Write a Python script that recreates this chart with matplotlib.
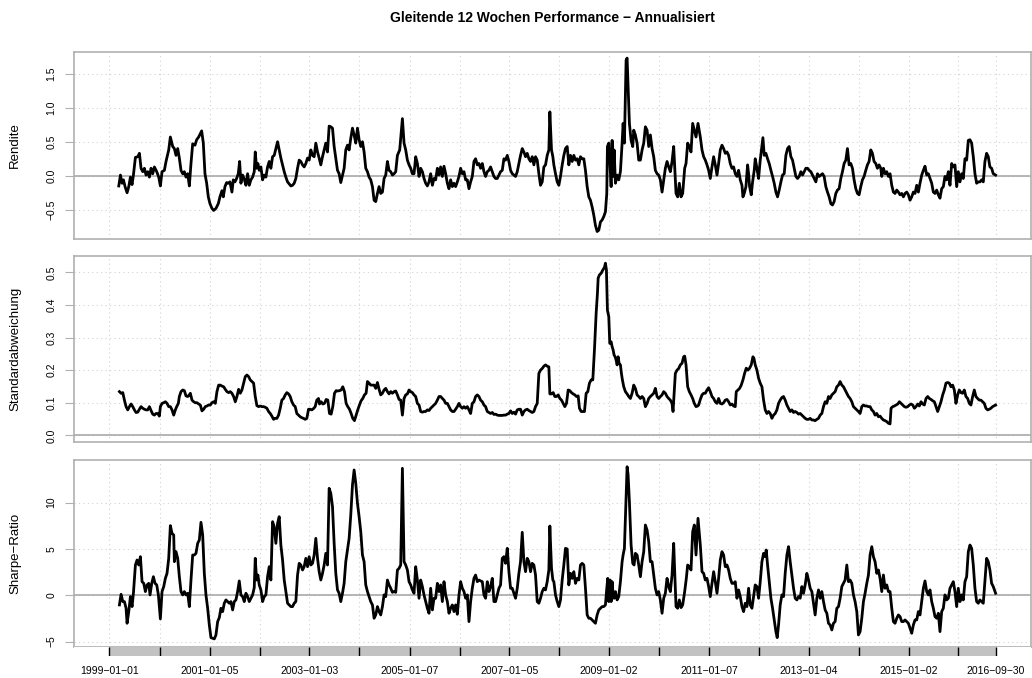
import numpy as np
import pandas as pd
import matplotlib
matplotlib.use("Agg")
import matplotlib.pyplot as plt

plt.rcParams['font.family'] = ['Liberation Sans', 'DejaVu Sans']

# rolling 12-week figures, (decimal year, value)
rendite = [
    (1999.187, -0.15), (1999.220, 0.01), (1999.253, -0.11), (1999.280, -0.06), (1999.313, -0.16),
    (1999.353, -0.25), (1999.387, -0.16), (1999.420, -0.02), (1999.453, -0.13), (1999.480, 0.01),
    (1999.520, 0.27), (1999.567, 0.28), (1999.600, 0.33), (1999.633, 0.11), (1999.667, 0.06),
    (1999.700, 0.11), (1999.733, 0.01), (1999.767, 0.06), (1999.800, -0.02), (1999.833, 0.11),
    (1999.867, 0.03), (1999.900, 0.13), (1999.947, 0.06), (1999.987, -0.02), (2000.020, -0.15),
    (2000.053, 0.06), (2000.100, 0.08), (2000.133, 0.21), (2000.187, 0.38), (2000.220, 0.57),
    (2000.267, 0.43), (2000.300, 0.40), (2000.333, 0.30), (2000.367, 0.40), (2000.400, 0.26),
    (2000.433, 0.08), (2000.467, 0.03), (2000.500, 0.06), (2000.533, -0.02), (2000.567, 0.03),
    (2000.600, -0.15), (2000.633, 0.18), (2000.667, 0.47), (2000.713, 0.45), (2000.747, 0.53),
    (2000.787, 0.57), (2000.820, 0.62), (2000.847, 0.66), (2000.880, 0.48), (2000.913, 0.03),
    (2000.947, -0.11), (2000.980, -0.31), (2001.013, -0.41), (2001.053, -0.48), (2001.087, -0.51),
    (2001.133, -0.48), (2001.180, -0.41), (2001.213, -0.31), (2001.253, -0.22), (2001.280, -0.31),
    (2001.313, -0.16), (2001.347, -0.10), (2001.380, -0.11), (2001.413, -0.09), (2001.453, -0.24),
    (2001.480, -0.06), (2001.513, -0.09), (2001.547, -0.04), (2001.580, 0.03), (2001.607, 0.21),
    (2001.633, -0.11), (2001.667, 0.01), (2001.700, -0.05), (2001.733, -0.14), (2001.767, 0.03),
    (2001.800, -0.14), (2001.833, -0.06), (2001.867, -0.02), (2001.900, 0.06), (2001.920, 0.35),
    (2001.947, 0.11), (2001.973, 0.18), (2002.000, 0.08), (2002.033, 0.13), (2002.067, -0.06),
    (2002.100, 0.01), (2002.133, -0.02), (2002.167, 0.13), (2002.200, 0.21), (2002.233, 0.11),
    (2002.267, 0.28), (2002.300, 0.30), (2002.333, 0.40), (2002.367, 0.50), (2002.400, 0.38),
    (2002.433, 0.26), (2002.467, 0.16), (2002.500, 0.06), (2002.533, -0.02), (2002.567, -0.09),
    (2002.600, -0.12), (2002.633, -0.15), (2002.667, -0.14), (2002.700, -0.11), (2002.733, -0.04),
    (2002.767, 0.11), (2002.800, 0.23), (2002.833, 0.21), (2002.867, 0.16), (2002.900, 0.13),
    (2002.933, 0.18), (2002.967, 0.26), (2003.000, 0.23), (2003.033, 0.38), (2003.067, 0.30),
    (2003.100, 0.28), (2003.133, 0.48), (2003.167, 0.35), (2003.200, 0.26), (2003.233, 0.16),
    (2003.267, 0.28), (2003.300, 0.38), (2003.333, 0.48), (2003.367, 0.35), (2003.400, 0.73),
    (2003.433, 0.72), (2003.467, 0.70), (2003.500, 0.43), (2003.533, 0.26), (2003.567, 0.08),
    (2003.600, 0.03), (2003.633, -0.10), (2003.667, 0.01), (2003.700, 0.11), (2003.733, 0.38),
    (2003.767, 0.45), (2003.800, 0.38), (2003.833, 0.55), (2003.867, 0.70), (2003.900, 0.60),
    (2003.933, 0.48), (2003.967, 0.70), (2004.000, 0.53), (2004.033, 0.43), (2004.067, 0.50),
    (2004.100, 0.35), (2004.133, 0.11), (2004.167, 0.06), (2004.200, -0.02), (2004.233, -0.06),
    (2004.267, -0.16), (2004.300, -0.36), (2004.333, -0.38), (2004.367, -0.26), (2004.400, -0.16),
    (2004.433, -0.26), (2004.467, -0.24), (2004.500, -0.04), (2004.533, 0.01), (2004.567, 0.21),
    (2004.600, 0.08), (2004.633, 0.06), (2004.667, 0.01), (2004.700, 0.03), (2004.733, 0.06),
    (2004.767, 0.30), (2004.813, 0.38), (2004.867, 0.84), (2004.900, 0.48), (2004.933, 0.38),
    (2004.967, 0.23), (2005.000, 0.16), (2005.033, 0.11), (2005.067, 0.03), (2005.100, 0.03),
    (2005.133, 0.28), (2005.167, 0.18), (2005.200, -0.01), (2005.233, 0.11), (2005.267, 0.06),
    (2005.300, -0.04), (2005.333, -0.11), (2005.367, -0.15), (2005.400, -0.09), (2005.433, 0.03),
    (2005.467, -0.14), (2005.500, -0.04), (2005.533, -0.06), (2005.567, 0.11), (2005.600, 0.01),
    (2005.633, 0.13), (2005.667, -0.01), (2005.700, 0.14), (2005.733, 0.03), (2005.767, -0.11),
    (2005.800, -0.19), (2005.833, -0.06), (2005.867, -0.16), (2005.900, -0.11), (2005.933, -0.16),
    (2005.967, -0.09), (2006.000, -0.01), (2006.033, 0.11), (2006.067, 0.03), (2006.100, 0.06),
    (2006.133, -0.06), (2006.167, -0.06), (2006.200, -0.19), (2006.233, -0.09), (2006.267, -0.01),
    (2006.300, 0.21), (2006.333, 0.25), (2006.367, 0.16), (2006.400, 0.18), (2006.433, 0.11),
    (2006.467, 0.18), (2006.500, 0.06), (2006.533, -0.01), (2006.567, 0.06), (2006.600, 0.08),
    (2006.633, 0.13), (2006.667, 0.06), (2006.700, -0.01), (2006.733, -0.04), (2006.767, -0.04),
    (2006.800, 0.01), (2006.833, 0.06), (2006.867, 0.08), (2006.900, 0.25), (2006.933, 0.23),
    (2006.967, 0.30), (2007.000, 0.21), (2007.033, 0.08), (2007.067, 0.03), (2007.100, 0.01),
    (2007.133, -0.01), (2007.167, 0.06), (2007.200, 0.18), (2007.233, 0.30), (2007.267, 0.40),
    (2007.300, 0.35), (2007.333, 0.28), (2007.367, 0.33), (2007.400, 0.25), (2007.433, 0.21),
    (2007.467, 0.28), (2007.500, 0.16), (2007.533, 0.28), (2007.567, 0.23), (2007.600, 0.03),
    (2007.633, -0.14), (2007.667, -0.09), (2007.700, 0.13), (2007.733, 0.16), (2007.767, 0.30),
    (2007.800, 0.38), (2007.820, 0.94), (2007.853, 0.38), (2007.880, 0.28), (2007.900, 0.16),
    (2007.933, 0.03), (2007.967, -0.09), (2008.000, -0.14), (2008.033, -0.01), (2008.067, 0.16),
    (2008.100, 0.30), (2008.133, 0.40), (2008.167, 0.43), (2008.200, 0.16), (2008.233, 0.30),
    (2008.267, 0.21), (2008.300, 0.30), (2008.333, 0.23), (2008.367, 0.25), (2008.400, 0.16),
    (2008.433, 0.28), (2008.467, 0.25), (2008.500, 0.25), (2008.533, 0.08), (2008.567, -0.16),
    (2008.600, -0.31), (2008.633, -0.36), (2008.667, -0.46), (2008.700, -0.58), (2008.733, -0.73),
    (2008.767, -0.82), (2008.800, -0.80), (2008.833, -0.68), (2008.867, -0.65), (2008.900, -0.60),
    (2008.933, -0.53), (2008.960, -0.26), (2008.973, 0.43), (2009.000, 0.48), (2009.020, 0.23),
    (2009.047, -0.16), (2009.067, 0.52), (2009.087, -0.01), (2009.107, 0.38), (2009.133, -0.11),
    (2009.167, 0.01), (2009.200, -0.06), (2009.233, 0.06), (2009.267, 0.48), (2009.287, 0.77),
    (2009.313, 0.48), (2009.347, 1.70), (2009.367, 1.73), (2009.387, 1.31), (2009.413, 0.77),
    (2009.447, 0.52), (2009.480, 0.43), (2009.500, 0.67), (2009.533, 0.60), (2009.567, 0.48),
    (2009.600, 0.23), (2009.633, 0.23), (2009.667, 0.38), (2009.700, 0.48), (2009.733, 0.72),
    (2009.767, 0.67), (2009.800, 0.43), (2009.833, 0.60), (2009.867, 0.40), (2009.900, 0.28),
    (2009.933, 0.08), (2009.967, 0.03), (2010.000, 0.01), (2010.033, -0.06), (2010.067, -0.24),
    (2010.100, -0.06), (2010.133, 0.11), (2010.167, 0.21), (2010.200, 0.13), (2010.233, 0.06),
    (2010.267, 0.21), (2010.300, 0.43), (2010.320, 0.13), (2010.347, -0.26), (2010.380, -0.31),
    (2010.413, -0.11), (2010.447, -0.31), (2010.480, -0.26), (2010.520, 0.11), (2010.547, 0.18),
    (2010.580, 0.48), (2010.613, 0.43), (2010.647, 0.35), (2010.680, 0.77), (2010.713, 0.67),
    (2010.747, 0.57), (2010.787, 0.77), (2010.833, 0.57), (2010.867, 0.38), (2010.900, 0.28),
    (2010.933, 0.23), (2010.967, 0.16), (2011.000, 0.08), (2011.033, -0.04), (2011.067, 0.13),
    (2011.100, 0.28), (2011.133, 0.16), (2011.167, 0.01), (2011.200, 0.18), (2011.233, 0.38),
    (2011.267, 0.45), (2011.300, 0.40), (2011.333, 0.33), (2011.367, 0.35), (2011.400, 0.30),
    (2011.433, 0.18), (2011.467, 0.11), (2011.500, 0.13), (2011.533, 0.03), (2011.567, -0.01),
    (2011.600, 0.08), (2011.633, -0.06), (2011.667, -0.14), (2011.687, -0.31), (2011.713, -0.26),
    (2011.747, -0.16), (2011.780, 0.16), (2011.800, 0.03), (2011.820, -0.16), (2011.853, -0.28),
    (2011.880, -0.09), (2011.913, 0.08), (2011.933, 0.25), (2011.967, 0.11), (2012.000, -0.04),
    (2012.033, 0.23), (2012.067, 0.43), (2012.087, 0.56), (2012.113, 0.30), (2012.147, 0.33),
    (2012.180, 0.25), (2012.213, 0.18), (2012.247, 0.08), (2012.280, -0.01), (2012.313, -0.11),
    (2012.347, -0.24), (2012.380, -0.31), (2012.413, -0.21), (2012.447, -0.09), (2012.480, 0.01),
    (2012.513, 0.03), (2012.547, 0.30), (2012.580, 0.40), (2012.613, 0.43), (2012.647, 0.28),
    (2012.680, 0.23), (2012.713, 0.11), (2012.747, -0.01), (2012.780, -0.04), (2012.813, -0.01),
    (2012.847, 0.06), (2012.880, 0.01), (2012.913, 0.06), (2012.947, 0.11), (2012.980, 0.11),
    (2013.013, 0.08), (2013.047, 0.06), (2013.080, 0.01), (2013.113, -0.04), (2013.147, -0.09),
    (2013.180, 0.03), (2013.213, -0.01), (2013.247, 0.01), (2013.280, 0.03), (2013.313, -0.01),
    (2013.347, -0.16), (2013.380, -0.24), (2013.413, -0.31), (2013.447, -0.41), (2013.480, -0.43),
    (2013.513, -0.38), (2013.547, -0.26), (2013.580, -0.21), (2013.613, -0.19), (2013.647, -0.04),
    (2013.680, 0.06), (2013.713, 0.18), (2013.747, 0.23), (2013.780, 0.40), (2013.813, 0.16),
    (2013.847, 0.18), (2013.880, 0.11), (2013.913, -0.06), (2013.947, -0.19), (2013.980, -0.26),
    (2014.013, -0.28), (2014.047, -0.16), (2014.080, -0.06), (2014.113, -0.01), (2014.147, 0.08),
    (2014.180, 0.16), (2014.213, 0.21), (2014.247, 0.38), (2014.280, 0.33), (2014.313, 0.21),
    (2014.347, 0.18), (2014.380, 0.11), (2014.413, 0.16), (2014.447, 0.11), (2014.467, -0.01),
    (2014.500, 0.11), (2014.533, 0.03), (2014.567, 0.06), (2014.600, -0.01), (2014.633, 0.03),
    (2014.667, -0.14), (2014.700, -0.24), (2014.733, -0.26), (2014.767, -0.21), (2014.800, -0.24),
    (2014.833, -0.28), (2014.867, -0.26), (2014.900, -0.31), (2014.933, -0.26), (2014.967, -0.24),
    (2015.000, -0.28), (2015.033, -0.36), (2015.067, -0.31), (2015.100, -0.24), (2015.133, -0.26),
    (2015.167, -0.14), (2015.200, -0.24), (2015.233, -0.11), (2015.267, 0.01), (2015.300, 0.08),
    (2015.333, 0.14), (2015.367, 0.01), (2015.400, 0.03), (2015.433, -0.04), (2015.467, -0.11),
    (2015.500, -0.24), (2015.533, -0.26), (2015.567, -0.21), (2015.600, -0.28), (2015.633, -0.33),
    (2015.667, -0.19), (2015.700, -0.16), (2015.733, -0.01), (2015.767, -0.06), (2015.800, 0.06),
    (2015.833, -0.14), (2015.867, 0.18), (2015.900, 0.13), (2015.933, 0.16), (2015.967, -0.16),
    (2016.000, 0.06), (2016.033, -0.09), (2016.067, 0.03), (2016.100, -0.04), (2016.133, 0.25),
    (2016.167, 0.23), (2016.200, 0.52), (2016.233, 0.53), (2016.267, 0.48), (2016.300, 0.28),
    (2016.333, 0.03), (2016.367, -0.11), (2016.400, -0.09), (2016.433, -0.09), (2016.467, -0.06),
    (2016.500, -0.09), (2016.533, 0.21), (2016.567, 0.33), (2016.600, 0.28), (2016.633, 0.13),
    (2016.667, 0.11), (2016.700, 0.03), (2016.747, 0.01),
]

std_abw = [
    (1999.200, 0.134), (1999.233, 0.129), (1999.267, 0.131), (1999.300, 0.108), (1999.333, 0.088),
    (1999.367, 0.078), (1999.400, 0.088), (1999.433, 0.096), (1999.467, 0.088), (1999.500, 0.078),
    (1999.533, 0.070), (1999.567, 0.071), (1999.600, 0.080), (1999.633, 0.088), (1999.667, 0.083),
    (1999.700, 0.080), (1999.733, 0.078), (1999.767, 0.078), (1999.800, 0.088), (1999.833, 0.076),
    (1999.867, 0.065), (1999.900, 0.062), (1999.933, 0.067), (1999.967, 0.067), (2000.000, 0.059),
    (2000.020, 0.088), (2000.053, 0.098), (2000.087, 0.100), (2000.120, 0.103), (2000.153, 0.098),
    (2000.187, 0.088), (2000.220, 0.088), (2000.253, 0.078), (2000.287, 0.062), (2000.320, 0.078),
    (2000.347, 0.088), (2000.380, 0.098), (2000.400, 0.119), (2000.433, 0.134), (2000.467, 0.139),
    (2000.500, 0.137), (2000.533, 0.121), (2000.567, 0.119), (2000.600, 0.124), (2000.620, 0.129),
    (2000.653, 0.108), (2000.687, 0.103), (2000.720, 0.100), (2000.753, 0.100), (2000.787, 0.096),
    (2000.820, 0.093), (2000.853, 0.075), (2000.887, 0.080), (2000.920, 0.088), (2000.953, 0.090),
    (2000.987, 0.093), (2001.020, 0.093), (2001.053, 0.100), (2001.087, 0.103), (2001.120, 0.098),
    (2001.153, 0.134), (2001.187, 0.154), (2001.220, 0.154), (2001.253, 0.151), (2001.287, 0.149),
    (2001.320, 0.141), (2001.353, 0.134), (2001.387, 0.131), (2001.420, 0.134), (2001.453, 0.129),
    (2001.487, 0.119), (2001.520, 0.103), (2001.553, 0.119), (2001.587, 0.141), (2001.620, 0.129),
    (2001.653, 0.139), (2001.687, 0.160), (2001.720, 0.180), (2001.753, 0.185), (2001.787, 0.180),
    (2001.820, 0.170), (2001.853, 0.165), (2001.887, 0.160), (2001.920, 0.119), (2001.953, 0.091),
    (2001.987, 0.088), (2002.020, 0.090), (2002.053, 0.088), (2002.087, 0.088), (2002.120, 0.086),
    (2002.153, 0.083), (2002.187, 0.073), (2002.220, 0.067), (2002.253, 0.059), (2002.287, 0.049),
    (2002.320, 0.052), (2002.353, 0.052), (2002.387, 0.062), (2002.420, 0.083), (2002.453, 0.108),
    (2002.487, 0.113), (2002.520, 0.124), (2002.553, 0.131), (2002.587, 0.127), (2002.620, 0.119),
    (2002.653, 0.103), (2002.687, 0.093), (2002.720, 0.088), (2002.753, 0.067), (2002.787, 0.062),
    (2002.820, 0.057), (2002.853, 0.054), (2002.887, 0.052), (2002.920, 0.049), (2002.953, 0.052),
    (2002.987, 0.080), (2003.020, 0.080), (2003.053, 0.078), (2003.087, 0.082), (2003.120, 0.088),
    (2003.153, 0.108), (2003.187, 0.113), (2003.207, 0.096), (2003.240, 0.103), (2003.273, 0.096),
    (2003.307, 0.098), (2003.340, 0.110), (2003.373, 0.108), (2003.407, 0.067), (2003.440, 0.065),
    (2003.473, 0.088), (2003.507, 0.129), (2003.540, 0.137), (2003.573, 0.136), (2003.607, 0.137),
    (2003.640, 0.139), (2003.673, 0.149), (2003.707, 0.134), (2003.740, 0.098), (2003.773, 0.088),
    (2003.807, 0.080), (2003.840, 0.067), (2003.873, 0.052), (2003.907, 0.045), (2003.940, 0.062),
    (2003.973, 0.078), (2004.007, 0.093), (2004.040, 0.106), (2004.073, 0.113), (2004.107, 0.124),
    (2004.140, 0.129), (2004.167, 0.165), (2004.200, 0.160), (2004.233, 0.154), (2004.267, 0.154),
    (2004.300, 0.154), (2004.333, 0.144), (2004.367, 0.162), (2004.400, 0.141), (2004.433, 0.124),
    (2004.467, 0.129), (2004.500, 0.139), (2004.533, 0.144), (2004.567, 0.134), (2004.600, 0.127),
    (2004.633, 0.134), (2004.667, 0.129), (2004.700, 0.134), (2004.733, 0.136), (2004.767, 0.124),
    (2004.800, 0.110), (2004.833, 0.108), (2004.867, 0.062), (2004.900, 0.113), (2004.933, 0.124),
    (2004.967, 0.127), (2005.000, 0.139), (2005.033, 0.134), (2005.067, 0.131), (2005.100, 0.124),
    (2005.133, 0.119), (2005.167, 0.098), (2005.200, 0.093), (2005.233, 0.073), (2005.267, 0.071),
    (2005.300, 0.073), (2005.333, 0.073), (2005.367, 0.078), (2005.400, 0.076), (2005.433, 0.083),
    (2005.467, 0.088), (2005.500, 0.093), (2005.533, 0.098), (2005.567, 0.108), (2005.600, 0.119),
    (2005.633, 0.119), (2005.667, 0.113), (2005.700, 0.108), (2005.733, 0.098), (2005.767, 0.098),
    (2005.800, 0.088), (2005.833, 0.078), (2005.867, 0.073), (2005.900, 0.073), (2005.933, 0.080),
    (2005.967, 0.088), (2006.000, 0.098), (2006.033, 0.088), (2006.067, 0.083), (2006.100, 0.088),
    (2006.133, 0.083), (2006.167, 0.088), (2006.200, 0.078), (2006.233, 0.067), (2006.267, 0.098),
    (2006.300, 0.103), (2006.333, 0.119), (2006.367, 0.124), (2006.400, 0.119), (2006.433, 0.108),
    (2006.467, 0.103), (2006.500, 0.093), (2006.533, 0.088), (2006.567, 0.073), (2006.600, 0.070),
    (2006.633, 0.067), (2006.667, 0.070), (2006.700, 0.064), (2006.733, 0.065), (2006.767, 0.062),
    (2006.800, 0.061), (2006.833, 0.061), (2006.867, 0.061), (2006.900, 0.062), (2006.933, 0.062),
    (2006.967, 0.065), (2007.000, 0.067), (2007.033, 0.075), (2007.067, 0.067), (2007.100, 0.071),
    (2007.133, 0.065), (2007.167, 0.078), (2007.200, 0.080), (2007.233, 0.080), (2007.267, 0.062),
    (2007.300, 0.073), (2007.333, 0.078), (2007.367, 0.080), (2007.400, 0.076), (2007.433, 0.073),
    (2007.467, 0.070), (2007.500, 0.073), (2007.533, 0.088), (2007.567, 0.098), (2007.600, 0.190),
    (2007.633, 0.200), (2007.667, 0.205), (2007.700, 0.212), (2007.733, 0.216), (2007.767, 0.212),
    (2007.800, 0.210), (2007.820, 0.127), (2007.853, 0.127), (2007.887, 0.131), (2007.920, 0.119),
    (2007.953, 0.119), (2007.987, 0.124), (2008.020, 0.113), (2008.053, 0.108), (2008.087, 0.098),
    (2008.120, 0.088), (2008.153, 0.098), (2008.187, 0.139), (2008.220, 0.137), (2008.253, 0.131),
    (2008.287, 0.127), (2008.320, 0.124), (2008.353, 0.119), (2008.387, 0.121), (2008.413, 0.083),
    (2008.447, 0.073), (2008.480, 0.073), (2008.513, 0.073), (2008.547, 0.129), (2008.580, 0.134),
    (2008.613, 0.160), (2008.647, 0.170), (2008.680, 0.170), (2008.713, 0.262), (2008.747, 0.374),
    (2008.773, 0.436), (2008.787, 0.482), (2008.813, 0.492), (2008.847, 0.497), (2008.880, 0.507),
    (2008.913, 0.515), (2008.933, 0.528), (2008.953, 0.507), (2008.973, 0.384), (2009.000, 0.364),
    (2009.020, 0.282), (2009.047, 0.287), (2009.067, 0.272), (2009.087, 0.262), (2009.107, 0.246),
    (2009.127, 0.241), (2009.147, 0.231), (2009.167, 0.216), (2009.187, 0.241), (2009.207, 0.221),
    (2009.233, 0.216), (2009.253, 0.190), (2009.273, 0.170), (2009.300, 0.149), (2009.333, 0.134),
    (2009.367, 0.127), (2009.400, 0.119), (2009.433, 0.113), (2009.467, 0.129), (2009.500, 0.154),
    (2009.533, 0.144), (2009.567, 0.124), (2009.600, 0.119), (2009.633, 0.113), (2009.667, 0.119),
    (2009.700, 0.113), (2009.733, 0.088), (2009.767, 0.098), (2009.800, 0.113), (2009.833, 0.119),
    (2009.867, 0.124), (2009.900, 0.129), (2009.933, 0.144), (2009.967, 0.119), (2010.000, 0.113),
    (2010.033, 0.119), (2010.067, 0.124), (2010.100, 0.134), (2010.133, 0.129), (2010.167, 0.119),
    (2010.200, 0.113), (2010.233, 0.108), (2010.267, 0.098), (2010.287, 0.073), (2010.313, 0.139),
    (2010.333, 0.190), (2010.367, 0.200), (2010.400, 0.205), (2010.433, 0.216), (2010.467, 0.221),
    (2010.500, 0.241), (2010.520, 0.243), (2010.547, 0.216), (2010.580, 0.149), (2010.613, 0.134),
    (2010.647, 0.124), (2010.680, 0.113), (2010.713, 0.098), (2010.747, 0.088), (2010.780, 0.090),
    (2010.800, 0.093), (2010.833, 0.110), (2010.867, 0.124), (2010.900, 0.129), (2010.933, 0.129),
    (2010.967, 0.139), (2011.000, 0.146), (2011.033, 0.134), (2011.067, 0.119), (2011.100, 0.113),
    (2011.133, 0.103), (2011.167, 0.098), (2011.200, 0.113), (2011.233, 0.098), (2011.267, 0.096),
    (2011.300, 0.100), (2011.333, 0.108), (2011.367, 0.110), (2011.400, 0.103), (2011.433, 0.093),
    (2011.467, 0.096), (2011.500, 0.090), (2011.533, 0.088), (2011.553, 0.134), (2011.587, 0.139),
    (2011.620, 0.144), (2011.653, 0.154), (2011.687, 0.170), (2011.720, 0.190), (2011.753, 0.206),
    (2011.787, 0.200), (2011.820, 0.206), (2011.853, 0.216), (2011.887, 0.241), (2011.907, 0.236),
    (2011.933, 0.216), (2011.967, 0.200), (2012.000, 0.175), (2012.033, 0.160), (2012.067, 0.149),
    (2012.100, 0.108), (2012.133, 0.078), (2012.167, 0.067), (2012.200, 0.073), (2012.233, 0.067),
    (2012.267, 0.052), (2012.300, 0.062), (2012.333, 0.067), (2012.367, 0.078), (2012.400, 0.098),
    (2012.433, 0.108), (2012.467, 0.116), (2012.500, 0.119), (2012.533, 0.108), (2012.567, 0.093),
    (2012.600, 0.083), (2012.633, 0.073), (2012.667, 0.078), (2012.700, 0.070), (2012.733, 0.073),
    (2012.767, 0.070), (2012.800, 0.065), (2012.833, 0.067), (2012.867, 0.062), (2012.900, 0.057),
    (2012.933, 0.052), (2012.967, 0.049), (2013.000, 0.049), (2013.033, 0.052), (2013.067, 0.047),
    (2013.100, 0.047), (2013.133, 0.045), (2013.167, 0.049), (2013.200, 0.052), (2013.233, 0.062),
    (2013.267, 0.067), (2013.300, 0.088), (2013.333, 0.103), (2013.367, 0.098), (2013.400, 0.119),
    (2013.433, 0.113), (2013.467, 0.124), (2013.500, 0.129), (2013.533, 0.134), (2013.567, 0.149),
    (2013.600, 0.154), (2013.633, 0.165), (2013.667, 0.154), (2013.700, 0.149), (2013.733, 0.139),
    (2013.767, 0.129), (2013.800, 0.119), (2013.833, 0.113), (2013.867, 0.103), (2013.900, 0.088),
    (2013.933, 0.083), (2013.967, 0.078), (2014.000, 0.073), (2014.033, 0.067), (2014.067, 0.088),
    (2014.100, 0.093), (2014.133, 0.090), (2014.167, 0.090), (2014.200, 0.088), (2014.233, 0.088),
    (2014.267, 0.078), (2014.300, 0.073), (2014.333, 0.062), (2014.367, 0.067), (2014.400, 0.057),
    (2014.433, 0.059), (2014.467, 0.052), (2014.500, 0.047), (2014.533, 0.045), (2014.567, 0.042),
    (2014.600, 0.037), (2014.633, 0.035), (2014.653, 0.083), (2014.687, 0.088), (2014.720, 0.090),
    (2014.753, 0.093), (2014.787, 0.096), (2014.820, 0.103), (2014.853, 0.098), (2014.887, 0.093),
    (2014.920, 0.088), (2014.953, 0.086), (2014.987, 0.088), (2015.020, 0.093), (2015.053, 0.096),
    (2015.087, 0.093), (2015.120, 0.083), (2015.153, 0.088), (2015.187, 0.096), (2015.220, 0.090),
    (2015.253, 0.103), (2015.287, 0.096), (2015.320, 0.093), (2015.353, 0.113), (2015.387, 0.119),
    (2015.420, 0.113), (2015.453, 0.110), (2015.487, 0.106), (2015.520, 0.103), (2015.553, 0.088),
    (2015.587, 0.073), (2015.620, 0.088), (2015.653, 0.103), (2015.687, 0.124), (2015.720, 0.139),
    (2015.753, 0.160), (2015.787, 0.162), (2015.820, 0.160), (2015.853, 0.149), (2015.887, 0.154),
    (2015.920, 0.139), (2015.953, 0.098), (2015.987, 0.124), (2016.020, 0.139), (2016.053, 0.131),
    (2016.087, 0.129), (2016.120, 0.139), (2016.153, 0.119), (2016.187, 0.113), (2016.220, 0.098),
    (2016.253, 0.093), (2016.287, 0.119), (2016.320, 0.139), (2016.353, 0.119), (2016.387, 0.113),
    (2016.420, 0.108), (2016.453, 0.108), (2016.487, 0.103), (2016.520, 0.098), (2016.553, 0.083),
    (2016.587, 0.078), (2016.620, 0.080), (2016.653, 0.083), (2016.687, 0.088), (2016.747, 0.093),
]

sharpe = [
    (1999.200, -1.04), (1999.233, 0.11), (1999.267, -0.68), (1999.300, -0.68), (1999.333, -1.40),
    (1999.353, -3.02), (1999.387, -1.76), (1999.420, -0.14), (1999.453, -1.22), (1999.480, 0.22),
    (1999.520, 3.27), (1999.553, 3.81), (1999.587, 3.27), (1999.620, 4.17), (1999.653, 1.47),
    (1999.687, 1.29), (1999.720, 0.40), (1999.753, 1.12), (1999.787, 1.29), (1999.813, 0.04),
    (1999.847, 1.29), (1999.880, 2.01), (1999.913, 1.29), (1999.947, 1.12), (1999.980, 0.04),
    (2000.020, -2.55), (2000.053, 0.40), (2000.087, 0.94), (2000.120, 1.83), (2000.153, 2.37),
    (2000.187, 3.99), (2000.220, 7.52), (2000.253, 6.69), (2000.287, 6.51), (2000.300, 3.63),
    (2000.333, 4.71), (2000.367, 3.99), (2000.400, 2.01), (2000.433, 0.40), (2000.467, 0.04),
    (2000.500, 0.40), (2000.533, 0.04), (2000.567, 0.22), (2000.600, -1.22), (2000.633, 1.65),
    (2000.667, 4.35), (2000.700, 4.35), (2000.733, 4.53), (2000.767, 5.61), (2000.800, 5.97),
    (2000.833, 7.88), (2000.867, 6.51), (2000.900, 2.37), (2000.933, 0.04), (2000.967, -1.40),
    (2001.000, -3.20), (2001.033, -4.57), (2001.067, -4.64), (2001.100, -4.71), (2001.133, -4.28),
    (2001.167, -2.84), (2001.200, -2.41), (2001.233, -1.40), (2001.267, -1.76), (2001.300, -0.86),
    (2001.333, -0.50), (2001.367, -0.68), (2001.400, -0.86), (2001.433, -0.68), (2001.467, -1.58),
    (2001.500, -0.68), (2001.533, -0.50), (2001.567, 0.40), (2001.600, 1.55), (2001.633, 0.04),
    (2001.667, -0.14), (2001.700, -0.68), (2001.733, 0.22), (2001.767, -0.14), (2001.800, -0.68),
    (2001.833, -0.32), (2001.867, 0.04), (2001.900, 0.83), (2001.920, 3.99), (2001.947, 1.65),
    (2001.973, 2.19), (2002.000, 1.12), (2002.033, 0.58), (2002.067, -0.68), (2002.100, -0.14),
    (2002.133, 0.04), (2002.167, 2.01), (2002.200, 3.09), (2002.233, 1.65), (2002.267, 7.95),
    (2002.300, 7.41), (2002.333, 5.61), (2002.367, 7.77), (2002.400, 8.49), (2002.433, 5.43),
    (2002.467, 3.81), (2002.500, 1.65), (2002.533, 0.40), (2002.567, -0.86), (2002.600, -1.04),
    (2002.633, -1.22), (2002.667, -1.22), (2002.700, -0.86), (2002.733, -0.68), (2002.767, 2.19),
    (2002.800, 3.45), (2002.833, 3.27), (2002.867, 2.73), (2002.900, 3.09), (2002.933, 3.99),
    (2002.967, 3.09), (2003.000, 4.17), (2003.033, 3.27), (2003.067, 3.45), (2003.100, 4.35),
    (2003.133, 6.15), (2003.167, 3.99), (2003.200, 2.55), (2003.233, 1.65), (2003.267, 2.37),
    (2003.300, 3.27), (2003.333, 4.53), (2003.367, 3.27), (2003.400, 11.55), (2003.433, 11.01),
    (2003.467, 9.57), (2003.500, 5.61), (2003.533, 2.37), (2003.567, 0.58), (2003.600, 0.22),
    (2003.633, -0.68), (2003.667, 0.22), (2003.700, 1.29), (2003.733, 3.63), (2003.767, 4.89),
    (2003.800, 6.15), (2003.833, 8.67), (2003.867, 11.91), (2003.900, 13.53), (2003.933, 12.09),
    (2003.967, 9.93), (2004.000, 8.49), (2004.033, 6.87), (2004.067, 4.35), (2004.100, 3.63),
    (2004.133, 1.12), (2004.167, 0.40), (2004.200, -0.14), (2004.233, -0.68), (2004.267, -1.04),
    (2004.300, -2.48), (2004.333, -2.12), (2004.367, -1.22), (2004.400, -1.76), (2004.433, -2.12),
    (2004.467, -1.22), (2004.500, 0.04), (2004.533, -0.14), (2004.567, 1.65), (2004.600, 1.12),
    (2004.633, 0.76), (2004.667, 0.32), (2004.700, 0.40), (2004.733, 0.32), (2004.767, 2.73),
    (2004.800, 2.91), (2004.833, 3.27), (2004.867, 13.71), (2004.900, 3.63), (2004.933, 3.27),
    (2004.967, 2.73), (2005.000, 1.47), (2005.033, 1.12), (2005.067, 0.58), (2005.100, 0.22),
    (2005.133, 3.09), (2005.167, 1.65), (2005.200, -0.32), (2005.233, 1.65), (2005.267, 0.94),
    (2005.300, 0.04), (2005.333, -0.68), (2005.367, -1.40), (2005.400, -1.94), (2005.433, 0.76),
    (2005.467, -1.58), (2005.500, -0.32), (2005.533, -0.32), (2005.567, 1.29), (2005.600, 0.40),
    (2005.633, 1.12), (2005.667, -0.68), (2005.700, 1.47), (2005.733, 0.04), (2005.767, -0.68),
    (2005.800, -1.94), (2005.833, -1.40), (2005.867, -1.04), (2005.900, -1.76), (2005.933, -1.04),
    (2005.967, -2.05), (2006.000, 0.04), (2006.033, 1.47), (2006.067, 0.76), (2006.100, 0.40),
    (2006.133, -0.32), (2006.167, 0.04), (2006.200, -2.84), (2006.233, -0.68), (2006.267, 0.76),
    (2006.300, 1.83), (2006.333, 2.19), (2006.367, 1.47), (2006.400, 1.65), (2006.433, 1.55),
    (2006.467, 1.47), (2006.500, 0.04), (2006.533, -0.32), (2006.567, 1.47), (2006.600, 0.40),
    (2006.633, 0.94), (2006.667, 1.83), (2006.700, -0.68), (2006.733, -0.68), (2006.767, 0.04),
    (2006.800, 0.76), (2006.833, 1.12), (2006.867, 3.99), (2006.900, 4.17), (2006.933, 3.45),
    (2006.967, 5.07), (2007.000, 2.55), (2007.033, 0.76), (2007.067, 0.76), (2007.100, 0.22),
    (2007.133, -0.32), (2007.167, 0.76), (2007.200, 2.37), (2007.233, 3.63), (2007.267, 6.80),
    (2007.300, 3.63), (2007.333, 2.55), (2007.367, 3.99), (2007.400, 3.63), (2007.433, 2.55),
    (2007.467, 3.45), (2007.500, 3.27), (2007.533, 2.19), (2007.567, -0.68), (2007.600, -0.86),
    (2007.633, -0.32), (2007.667, 0.40), (2007.700, 0.76), (2007.733, 0.58), (2007.767, 1.47),
    (2007.800, 2.73), (2007.820, 7.48), (2007.853, 2.91), (2007.880, 1.65), (2007.900, 1.47),
    (2007.933, 0.04), (2007.967, -0.68), (2008.000, -1.22), (2008.033, -0.50), (2008.067, 1.65),
    (2008.100, 3.27), (2008.133, 5.07), (2008.167, 5.00), (2008.200, 1.12), (2008.233, 2.37),
    (2008.267, 1.83), (2008.300, 2.55), (2008.333, 1.29), (2008.367, 1.83), (2008.400, 1.65),
    (2008.433, 3.27), (2008.467, 3.45), (2008.500, 3.27), (2008.533, 0.76), (2008.567, -2.12),
    (2008.600, -2.48), (2008.633, -2.48), (2008.667, -2.66), (2008.700, -2.84), (2008.733, -3.02),
    (2008.767, -2.12), (2008.800, -1.58), (2008.833, -1.40), (2008.867, -1.22), (2008.900, -1.22),
    (2008.933, -1.04), (2008.960, 0.76), (2008.980, 1.83), (2009.000, -0.68), (2009.027, 1.65),
    (2009.047, -0.68), (2009.067, 1.47), (2009.087, 0.04), (2009.107, -0.32), (2009.133, 0.40),
    (2009.167, -0.50), (2009.200, -0.14), (2009.233, 1.47), (2009.267, 3.63), (2009.287, 4.35),
    (2009.313, 5.07), (2009.347, 10.83), (2009.367, 13.88), (2009.387, 12.99), (2009.413, 10.11),
    (2009.447, 5.43), (2009.480, 3.45), (2009.507, 3.27), (2009.533, 4.53), (2009.567, 4.35),
    (2009.600, 3.27), (2009.633, 2.01), (2009.667, 3.63), (2009.700, 4.71), (2009.733, 7.59),
    (2009.767, 7.05), (2009.800, 5.79), (2009.833, 3.63), (2009.867, 3.63), (2009.900, 2.19),
    (2009.933, 0.76), (2009.967, 0.04), (2010.000, 0.40), (2010.033, -0.50), (2010.067, -1.94),
    (2010.100, -0.32), (2010.133, 0.22), (2010.167, 1.83), (2010.200, 0.94), (2010.233, 0.40),
    (2010.267, 2.19), (2010.300, 5.61), (2010.320, 2.55), (2010.347, -1.22), (2010.380, -1.40),
    (2010.413, -0.50), (2010.447, -1.33), (2010.480, -1.04), (2010.520, 0.40), (2010.553, 1.83),
    (2010.580, 3.27), (2010.613, 3.09), (2010.647, 2.73), (2010.680, 6.87), (2010.713, 7.59),
    (2010.747, 4.35), (2010.787, 8.31), (2010.833, 5.43), (2010.867, 2.55), (2010.900, 2.37),
    (2010.933, 1.65), (2010.967, 1.83), (2011.000, 0.94), (2011.033, -0.14), (2011.067, 1.29),
    (2011.100, 2.55), (2011.133, 1.47), (2011.167, 0.22), (2011.200, 1.83), (2011.233, 3.81),
    (2011.267, 4.71), (2011.300, 4.35), (2011.333, 3.09), (2011.367, 3.27), (2011.400, 2.73),
    (2011.433, 1.83), (2011.467, 1.29), (2011.500, 1.29), (2011.533, 1.47), (2011.567, -0.32),
    (2011.600, 0.58), (2011.633, -0.14), (2011.667, -1.22), (2011.700, -1.76), (2011.733, -0.86),
    (2011.767, -1.22), (2011.800, 0.76), (2011.833, -1.04), (2011.867, -1.40), (2011.900, -0.14),
    (2011.933, 1.12), (2011.967, 0.94), (2012.000, -0.32), (2012.033, 1.47), (2012.067, 3.63),
    (2012.100, 4.53), (2012.133, 4.17), (2012.153, 4.89), (2012.180, 3.27), (2012.213, 1.47),
    (2012.247, -0.32), (2012.280, -1.40), (2012.313, -2.66), (2012.347, -3.92), (2012.373, -4.57),
    (2012.400, -3.20), (2012.433, -1.04), (2012.467, 0.04), (2012.500, -0.14), (2012.533, 2.37),
    (2012.567, 4.35), (2012.600, 5.25), (2012.633, 3.63), (2012.667, 2.19), (2012.700, 0.76),
    (2012.733, -0.32), (2012.767, -0.50), (2012.800, -0.14), (2012.833, -0.32), (2012.867, 0.94),
    (2012.900, 0.22), (2012.933, 1.12), (2012.967, 2.37), (2013.000, 1.65), (2013.033, 0.76),
    (2013.067, 0.40), (2013.100, -0.86), (2013.133, -2.12), (2013.167, -0.32), (2013.200, 0.58),
    (2013.233, -0.32), (2013.267, 0.40), (2013.300, -0.68), (2013.333, -1.58), (2013.367, -1.94),
    (2013.400, -3.02), (2013.433, -3.20), (2013.467, -3.74), (2013.500, -3.02), (2013.533, -2.84),
    (2013.567, -1.40), (2013.600, -1.22), (2013.633, -0.32), (2013.667, 0.94), (2013.700, 1.29),
    (2013.733, 1.65), (2013.767, 3.27), (2013.800, 1.47), (2013.833, 1.65), (2013.867, 1.29),
    (2013.900, 0.04), (2013.933, -0.68), (2013.967, -1.76), (2014.000, -4.28), (2014.033, -3.92),
    (2014.067, -2.48), (2014.100, -0.68), (2014.133, 0.22), (2014.167, 1.29), (2014.200, 2.19),
    (2014.233, 4.35), (2014.267, 5.25), (2014.300, 4.17), (2014.333, 3.63), (2014.367, 2.37),
    (2014.400, 2.73), (2014.433, 1.83), (2014.467, 0.40), (2014.500, 2.19), (2014.533, 0.76),
    (2014.567, 1.12), (2014.600, 0.40), (2014.633, 0.40), (2014.667, -1.40), (2014.700, -2.84),
    (2014.733, -3.02), (2014.767, -2.48), (2014.800, -2.12), (2014.833, -2.30), (2014.867, -2.84),
    (2014.900, -2.84), (2014.933, -2.66), (2014.967, -2.84), (2015.000, -3.02), (2015.033, -3.56),
    (2015.067, -4.10), (2015.100, -3.20), (2015.133, -2.66), (2015.167, -2.66), (2015.200, -1.76),
    (2015.233, -2.12), (2015.267, -0.68), (2015.300, 0.76), (2015.333, 1.55), (2015.367, 0.40),
    (2015.400, 0.04), (2015.433, 0.58), (2015.467, -0.68), (2015.500, -1.40), (2015.533, -2.30),
    (2015.567, -2.48), (2015.600, -1.94), (2015.633, -3.92), (2015.667, -1.76), (2015.700, -1.40),
    (2015.733, 0.04), (2015.767, -0.50), (2015.800, -0.32), (2015.833, 0.76), (2015.867, 1.12),
    (2015.900, 1.47), (2015.933, 0.40), (2015.967, -1.22), (2016.000, 0.76), (2016.033, -0.68),
    (2016.067, 0.04), (2016.100, -0.50), (2016.133, 1.47), (2016.167, 2.01), (2016.200, 4.71),
    (2016.233, 5.43), (2016.267, 5.07), (2016.300, 3.27), (2016.333, 0.76), (2016.367, -0.68),
    (2016.400, -0.86), (2016.433, -0.50), (2016.467, -0.68), (2016.500, -0.86), (2016.533, 1.47),
    (2016.567, 3.99), (2016.600, 3.63), (2016.633, 2.73), (2016.667, 1.29), (2016.700, 0.94),
    (2016.747, 0.22),
]

# first Friday of each year (axis ticks) and the last observation
year_ticks = ['1999-01-01', '2000-01-07', '2001-01-05', '2002-01-04', '2003-01-03',
              '2004-01-02', '2005-01-07', '2006-01-06', '2007-01-05', '2008-01-04',
              '2009-01-02', '2010-01-01', '2011-01-07', '2012-01-06', '2013-01-04',
              '2014-01-03', '2015-01-02', '2016-01-01', '2016-09-30']
date_labels = ['1999-01-01', '2001-01-05', '2003-01-03', '2005-01-07', '2007-01-05',
               '2009-01-02', '2011-01-07', '2013-01-04', '2015-01-02', '2016-09-30']

panels = [
    ('Rendite', rendite, [-0.5, 0.0, 0.5, 1.0, 1.5], ['−0.5', '0.0', '0.5', '1.0', '1.5'], (-0.93, 1.82)),
    ('Standardabweichung', std_abw, [0.0, 0.1, 0.2, 0.3, 0.4, 0.5],
     ['0.0', '0.1', '0.2', '0.3', '0.4', '0.5'], (-0.0205, 0.551)),
    ('Sharpe−Ratio', sharpe, [-5, 0, 5, 10], ['−5', '0', '5', '10'], (-5.55, 14.64)),
]


def dec_year(s):
    t = pd.Timestamp(s)
    days = 366 if t.is_leap_year else 365
    return t.year + (t.dayofyear - 1) / days


tick_x = [dec_year(s) for s in year_ticks]
label_x = [dec_year(s) for s in date_labels]
x0, x1 = tick_x[0], tick_x[-1]
pad = 0.04 * (x1 - x0)
xlim = (x0 - pad, x1 + pad)

W, H = 1032, 678
fig = plt.figure(figsize=(W / 100, H / 100), dpi=100)

frame = '#b0b0b0'
boxes = [(52, 239), (255.7, 442), (459.7, 646.7)]
left, right = 74, 1031

for (name, pts, yt, ytl, ylim), (top, bot) in zip(panels, boxes):
    ax = fig.add_axes([left / W, 1 - bot / H, (right - left) / W, (bot - top) / H])
    xs = np.array([p[0] for p in pts])
    ys = np.array([p[1] for p in pts])
    ax.set_xlim(xlim)
    ax.set_ylim(ylim)
    for xv in tick_x:
        ax.axvline(xv, color='#d3d3d3', lw=0.8, ls=(0, (1, 3)), zorder=1)
    for yv in yt:
        ax.axhline(yv, color='#d3d3d3', lw=0.8, ls=(0, (1, 3)), zorder=1)
    ax.axhline(0, color='#a9a9a9', lw=1.2, zorder=2)
    ax.plot(xs, ys, color='black', lw=2.0, solid_joinstyle='round', zorder=3)
    ax.set_xticks([])
    ax.set_yticks(yt)
    ax.set_yticklabels(ytl, rotation=90, va='center', fontsize=7.5)
    ax.tick_params(axis='y', direction='out', length=6.5, width=0.8, color=frame, pad=6)
    for sp in ax.spines.values():
        sp.set_color(frame)
        sp.set_linewidth(1.2)
    fig.text(15 / W, 1 - (top + bot) / 2 / H, name, rotation=90, ha='center', va='center', fontsize=9.5)

# date strip under the lowest panel
strip = fig.add_axes([left / W, 1 - 656 / H, (right - left) / W, 9.3 / H])
strip.set_xlim(xlim)
strip.set_ylim(0, 1)
strip.axvspan(x0, x1, color='#c2c2c2', lw=0)
strip.vlines(tick_x, 0, 1, color='black', lw=1.0)
for sp in strip.spines.values():
    sp.set_visible(False)
strip.set_yticks([])
strip.set_xticks(label_x)
strip.set_xticklabels([s.replace('-', '−') for s in date_labels], fontsize=7.5)
strip.tick_params(axis='x', length=0, pad=7)

fig.text(552.5 / W, 1 - 18 / H, 'Gleitende 12 Wochen Performance − Annualisiert',
         ha='center', va='center', fontsize=10, fontweight='bold')

fig.savefig('out.png', dpi=100)
